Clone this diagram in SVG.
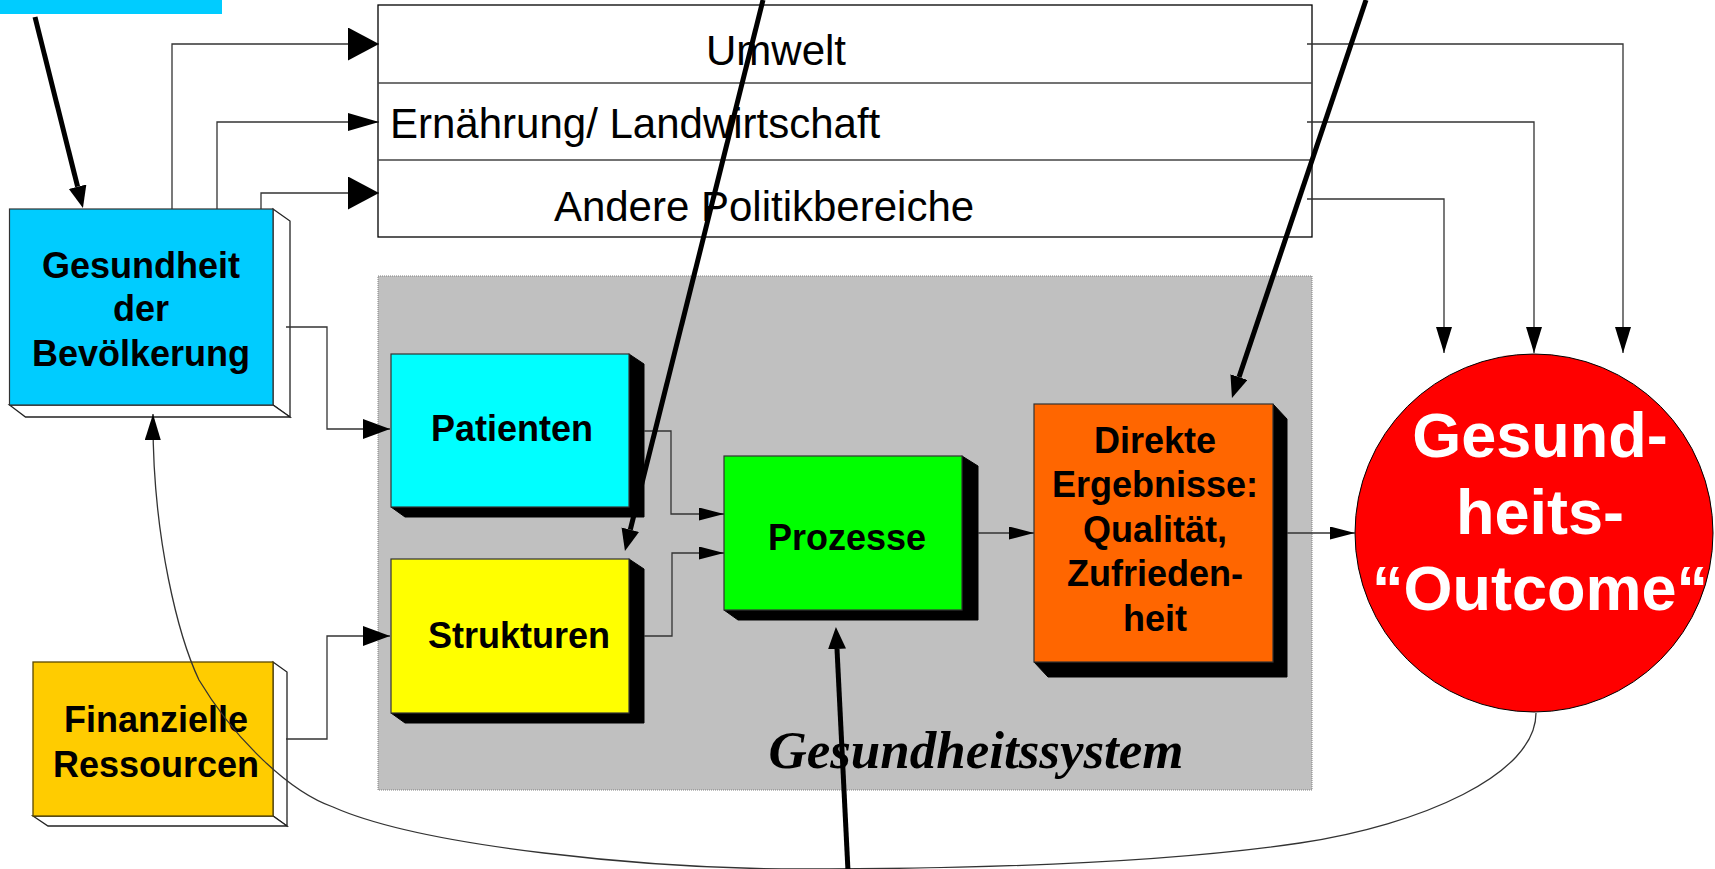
<svg xmlns="http://www.w3.org/2000/svg" width="1715" height="869" viewBox="0 0 1715 869">
<style>
.t{font-family:"Liberation Sans",Arial,sans-serif;fill:#000}
.b{font-family:"Liberation Sans",Arial,sans-serif;font-weight:bold;font-size:36px;fill:#000;text-anchor:middle}
.reg{font-size:42px}
.w{font-family:"Liberation Sans",Arial,sans-serif;font-weight:bold;font-size:63px;fill:#fff;text-anchor:middle}
.front{stroke:#333;stroke-width:1.2}
.shadow{fill:#000;stroke:#000;stroke-width:1}
.ext{fill:#fff;stroke:#222;stroke-width:1.3}
.c{fill:none;stroke:#333;stroke-width:1.3}
.thick{fill:none;stroke:#000;stroke-width:5}
</style>
<defs>
<marker id="aBig" markerUnits="userSpaceOnUse" markerWidth="32" markerHeight="34" refX="31" refY="16.5" orient="auto"><path d="M0,0 L31,16.5 L0,33 z" fill="#000"/></marker>
<marker id="aMid" markerUnits="userSpaceOnUse" markerWidth="32" markerHeight="19" refX="31" refY="9" orient="auto"><path d="M0,0 L31,9 L0,18 z" fill="#000"/></marker>
<marker id="aIn" markerUnits="userSpaceOnUse" markerWidth="28" markerHeight="21" refX="27" refY="10" orient="auto"><path d="M0,0 L27,10 L0,20 z" fill="#000"/></marker>
<marker id="aSm" markerUnits="userSpaceOnUse" markerWidth="26" markerHeight="14" refX="25" refY="6.5" orient="auto"><path d="M0,0 L25,6.5 L0,13 z" fill="#000"/></marker>
<marker id="aDown" markerUnits="userSpaceOnUse" markerWidth="27" markerHeight="17" refX="26" refY="8" orient="auto"><path d="M0,0 L26,8 L0,16 z" fill="#000"/></marker>
<marker id="aThick" markerUnits="userSpaceOnUse" markerWidth="23" markerHeight="19" refX="0" refY="9" orient="auto"><path d="M0,0 L22,9 L0,18 z" fill="#000"/></marker>
</defs>

<!-- background containers -->
<g id="top-bar"><rect x="0" y="0" width="222" height="14" fill="#00CCFF"/></g>

<g id="politik">
<rect x="378" y="5" width="934" height="232" fill="#fff" stroke="#000" stroke-width="1.3"/>
<line x1="378" y1="83" x2="1312" y2="83" stroke="#444" stroke-width="1.3"/>
<line x1="378" y1="160" x2="1312" y2="160" stroke="#444" stroke-width="1.3"/>
<text class="t reg" x="776" y="65" text-anchor="middle">Umwelt</text>
<text class="t reg" x="390" y="138">Ernährung/ Landwirtschaft</text>
<text class="t reg" x="764" y="221" text-anchor="middle">Andere Politikbereiche</text>
</g>

<g id="gesundheitssystem">
<rect x="378" y="276" width="934" height="514" fill="#C0C0C0" stroke="#808080" stroke-width="1" stroke-dasharray="1,1"/>
<text x="976" y="768" text-anchor="middle" font-family="'Liberation Serif','Times New Roman',serif" font-weight="bold" font-style="italic" font-size="53" fill="#000">Gesundheitssystem</text>
</g>

<g id="gesundheit-bevoelkerung">
<polygon class="ext" points="273,209 290,221 290,417 273,405"/>
<polygon class="ext" points="9.5,405 273,405 290,417 25.5,417"/>
<rect class="front" x="9.5" y="209" width="263.5" height="196" fill="#00CCFF"/>
<text class="b" x="141" y="278">Gesundheit</text>
<text class="b" x="141" y="321">der</text>
<text class="b" x="141" y="366">Bevölkerung</text>
</g>

<g id="finanzielle-ressourcen">
<polygon class="ext" points="273,662 287,672 287,826 273,816" stroke="#666"/>
<polygon class="ext" points="33,816 273,816 287,826 48,826" stroke="#666"/>
<rect x="33" y="662" width="240" height="154" fill="#FFCC00" stroke="#5a4800" stroke-width="1.3"/>
<text class="b" x="156" y="732">Finanzielle</text>
<text class="b" x="156" y="777">Ressourcen</text>
</g>

<g id="patienten">
<polygon class="shadow" points="629,354 644,364 644,517 405,517 391,507"/>
<rect class="front" x="391" y="354" width="238" height="153" fill="#00FFFF"/>
<text class="b" x="512" y="441">Patienten</text>
</g>

<g id="strukturen">
<polygon class="shadow" points="629,559 644,569 644,723 405,723 391,713"/>
<rect class="front" x="391" y="559" width="238" height="154" fill="#FFFF00"/>
<text class="b" x="519" y="648">Strukturen</text>
</g>

<g id="prozesse">
<polygon class="shadow" points="962,456 978,466 978,620 738,620 724,610"/>
<rect class="front" x="724" y="456" width="238" height="154" fill="#00FF00"/>
<text class="b" x="847" y="550">Prozesse</text>
</g>

<g id="direkte-ergebnisse">
<polygon class="shadow" points="1273,404 1287,419 1287,677 1048,677 1034,662"/>
<rect class="front" x="1034" y="404" width="239" height="258" fill="#FF6600"/>
<text class="b" x="1155" y="453">Direkte</text>
<text class="b" x="1155" y="497">Ergebnisse:</text>
<text class="b" x="1155" y="542">Qualität,</text>
<text class="b" x="1155" y="586">Zufrieden-</text>
<text class="b" x="1155" y="631">heit</text>
</g>

<g id="gesundheits-outcome">
<circle cx="1534" cy="533" r="179" fill="#FF0000" stroke="#000" stroke-width="1"/>
<text class="w" x="1540" y="457">Gesund-</text>
<text class="w" x="1540" y="534">heits-</text>
<text class="w" x="1540" y="610">“Outcome“</text>
</g>

<g id="connectors">
<path class="c" d="M172,209 V44 H379" marker-end="url(#aBig)"/>
<path class="c" d="M217,209 V122 H379" marker-end="url(#aMid)"/>
<path class="c" d="M261,209 V193 H379" marker-end="url(#aBig)"/>
<path class="c" d="M286,327 H327 V429 H390" marker-end="url(#aIn)"/>
<path class="c" d="M286,739 H327 V636 H390" marker-end="url(#aIn)"/>
<path class="c" d="M644,431 H671 V514 H724" marker-end="url(#aSm)"/>
<path class="c" d="M644,636 H672 V553 H724" marker-end="url(#aSm)"/>
<path class="c" d="M978,533 H1034" marker-end="url(#aSm)"/>
<path class="c" d="M1287,533 H1355" marker-end="url(#aSm)"/>
<path class="c" d="M1307,44 H1623 V353" marker-end="url(#aDown)"/>
<path class="c" d="M1307,122 H1534 V353" marker-end="url(#aDown)"/>
<path class="c" d="M1307,199 H1444 V353" marker-end="url(#aDown)"/>
<path class="c" stroke="#000" d="M1536,713 C1536,775 1420,825 1300,843 C1150,865 950,869 800,869 C650,869 423,847 333,807 C290,792 235,740 199,680 C180,640 152,540 153,414" marker-end="url(#aDown)"/>
<path class="thick" d="M35,17 L77.6,186.7" marker-end="url(#aThick)"/>
<path class="thick" d="M763,0 L630.3,529.7" marker-end="url(#aThick)"/>
<path class="thick" d="M1366,0 L1239,377.1" marker-end="url(#aThick)"/>
<path class="thick" d="M848,871 L837,649" marker-end="url(#aThick)"/>
</g>
</svg>
